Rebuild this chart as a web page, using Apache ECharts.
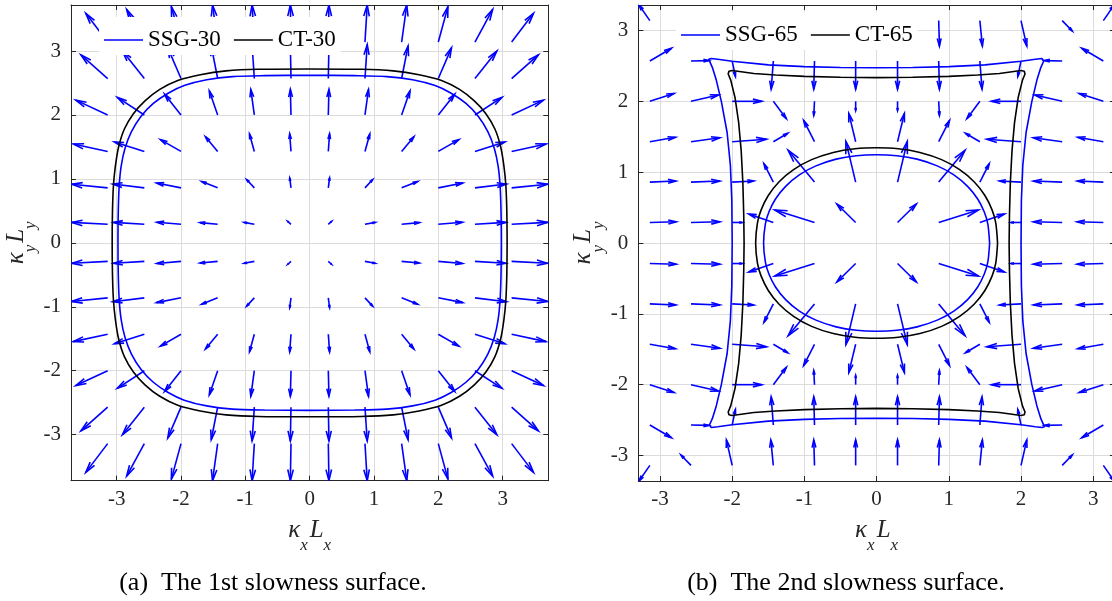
<!DOCTYPE html>
<html><head><meta charset="utf-8">
<script src="https://cdn.jsdelivr.net/npm/echarts@6/dist/echarts.min.js"></script>
<style>html,body{margin:0;padding:0;background:#fff}#c{width:1112px;height:601px}</style>
</head><body><div id="c"></div>
<script>
// quiver grid positions (same for both panels)
const gridPos = [-3.14, -2.57, -2.00, -1.43, -0.86, -0.29, 0.29, 0.86, 1.43, 2.00, 2.57, 3.14];

// Panel (a): arrow components, rows = y from -3.14 to 3.14, cols = x from -3.14 to 3.14
const uA = [
 [-0.34,-0.275,-0.15,-0.08,-0.035,-0.01,0.01,0.035,0.08,0.15,0.275,0.34],
 [-0.415,-0.34,-0.205,-0.10,-0.035,-0.01,0.01,0.035,0.10,0.205,0.34,0.415],
 [-0.495,-0.42,-0.255,-0.13,-0.055,-0.01,0.01,0.055,0.13,0.255,0.42,0.495],
 [-0.535,-0.465,-0.32,-0.19,-0.075,-0.02,0.02,0.075,0.19,0.32,0.465,0.535],
 [-0.56,-0.49,-0.38,-0.25,-0.12,-0.02,0.02,0.12,0.25,0.38,0.49,0.56],
 [-0.56,-0.48,-0.375,-0.275,-0.16,-0.05,0.05,0.16,0.275,0.375,0.48,0.56],
 [-0.56,-0.48,-0.375,-0.275,-0.16,-0.05,0.05,0.16,0.275,0.375,0.48,0.56],
 [-0.56,-0.49,-0.38,-0.25,-0.12,-0.02,0.02,0.12,0.25,0.38,0.49,0.56],
 [-0.535,-0.465,-0.32,-0.19,-0.075,-0.02,0.02,0.075,0.19,0.32,0.465,0.535],
 [-0.495,-0.42,-0.255,-0.13,-0.055,-0.01,0.01,0.055,0.13,0.255,0.42,0.495],
 [-0.415,-0.34,-0.205,-0.10,-0.035,-0.01,0.01,0.035,0.10,0.205,0.34,0.415],
 [-0.34,-0.275,-0.15,-0.08,-0.035,-0.01,0.01,0.035,0.08,0.15,0.275,0.34]
];
const vA = [
 [-0.45,-0.51,-0.555,-0.58,-0.58,-0.58,-0.58,-0.58,-0.58,-0.555,-0.51,-0.45],
 [-0.37,-0.43,-0.48,-0.51,-0.53,-0.53,-0.53,-0.53,-0.51,-0.48,-0.43,-0.37],
 [-0.232,-0.275,-0.325,-0.378,-0.40,-0.40,-0.40,-0.40,-0.378,-0.325,-0.275,-0.232],
 [-0.115,-0.148,-0.185,-0.23,-0.273,-0.276,-0.276,-0.273,-0.23,-0.185,-0.148,-0.115],
 [-0.057,-0.06,-0.075,-0.10,-0.13,-0.155,-0.155,-0.13,-0.10,-0.075,-0.06,-0.057],
 [-0.03,-0.03,-0.033,-0.026,-0.03,-0.045,-0.045,-0.03,-0.026,-0.033,-0.03,-0.03],
 [0.03,0.03,0.033,0.026,0.03,0.045,0.045,0.03,0.026,0.033,0.03,0.03],
 [0.057,0.06,0.075,0.10,0.13,0.155,0.155,0.13,0.10,0.075,0.06,0.057],
 [0.115,0.148,0.185,0.23,0.273,0.276,0.276,0.273,0.23,0.185,0.148,0.115],
 [0.232,0.275,0.325,0.378,0.40,0.40,0.40,0.40,0.378,0.325,0.275,0.232],
 [0.37,0.43,0.48,0.51,0.53,0.53,0.53,0.53,0.51,0.48,0.43,0.37],
 [0.45,0.51,0.555,0.58,0.58,0.58,0.58,0.58,0.58,0.555,0.51,0.45]
];

// Panel (b)
const uB = [
 [-0.15,-0.14,-0.08,-0.035,-0.01,0,0,0.01,0.035,0.08,0.14,0.15],
 [0.30,0.245,0.045,-0.03,-0.01,0,0,0.01,0.03,-0.045,-0.245,-0.30],
 [0.335,0.38,0.41,0.18,-0.01,0,0,0.01,-0.18,-0.41,-0.38,-0.335],
 [0.355,0.40,0.475,0.20,-0.15,-0.095,0.095,0.15,-0.20,-0.475,-0.40,-0.355],
 [0.36,0.40,0.30,-0.13,-0.365,-0.135,0.135,0.365,0.13,-0.30,-0.40,-0.36],
 [0.365,0.40,0.14,-0.34,-0.55,-0.26,0.26,0.55,0.34,-0.14,-0.40,-0.365],
 [0.365,0.40,0.14,-0.34,-0.55,-0.26,0.26,0.55,0.34,-0.14,-0.40,-0.365],
 [0.36,0.40,0.30,-0.13,-0.365,-0.135,0.135,0.365,0.13,-0.30,-0.40,-0.36],
 [0.355,0.40,0.475,0.20,-0.15,-0.095,0.095,0.15,-0.20,-0.475,-0.40,-0.355],
 [0.335,0.38,0.41,0.18,-0.01,0,0,0.01,-0.18,-0.41,-0.38,-0.335],
 [0.30,0.245,0.045,-0.03,-0.01,0,0,0.01,0.03,-0.045,-0.245,-0.30],
 [-0.15,-0.14,-0.08,-0.035,-0.01,0,0,0.01,0.035,0.08,0.14,0.15]
];
const vB = [
 [-0.22,0.148,0.36,0.36,0.36,0.36,0.36,0.36,0.36,0.36,0.148,-0.22],
 [-0.18,-0.005,0.22,0.40,0.40,0.40,0.40,0.40,0.40,0.22,-0.005,-0.18],
 [-0.11,-0.09,0,0.245,0.2,0.13,0.13,0.2,0.245,0,-0.09,-0.11],
 [-0.062,-0.055,-0.035,-0.12,-0.30,-0.40,-0.40,-0.30,-0.12,-0.035,-0.055,-0.062],
 [-0.015,-0.015,-0.015,-0.26,-0.45,-0.575,-0.575,-0.45,-0.26,-0.015,-0.015,-0.015],
 [-0.01,-0.01,0,-0.12,-0.175,-0.26,-0.26,-0.175,-0.12,0,-0.01,-0.01],
 [0.01,0.01,0,0.12,0.175,0.26,0.26,0.175,0.12,0,0.01,0.01],
 [0.015,0.015,0.015,0.26,0.45,0.575,0.575,0.45,0.26,0.015,0.015,0.015],
 [0.062,0.055,0.035,0.12,0.30,0.40,0.40,0.30,0.12,0.035,0.055,0.062],
 [0.11,0.09,0,-0.245,-0.2,-0.13,-0.13,-0.2,-0.245,0,0.09,0.11],
 [0.18,0.005,-0.22,-0.40,-0.40,-0.40,-0.40,-0.40,-0.40,-0.22,0.005,0.18],
 [0.22,-0.148,-0.36,-0.36,-0.36,-0.36,-0.36,-0.36,-0.36,-0.36,-0.148,0.22]
];

// curves
const ct30 = [[3.07,0],[3.065,0.5],[3.05,0.9],[3.02,1.2],[2.97,1.5],[2.88,1.78],[2.74,2.02],[2.56,2.22],[2.33,2.4],[2.05,2.54],[1.7,2.63],[1.3,2.69],[0.8,2.715],[0,2.72],
 [-0.8,2.715],[-1.3,2.69],[-1.7,2.63],[-2.05,2.54],[-2.33,2.4],[-2.56,2.22],[-2.74,2.02],[-2.88,1.78],[-2.97,1.5],[-3.02,1.2],[-3.05,0.9],[-3.065,0.5],[-3.07,0],
 [-3.065,-0.5],[-3.05,-0.9],[-3.02,-1.2],[-2.97,-1.5],[-2.88,-1.78],[-2.74,-2.02],[-2.56,-2.22],[-2.33,-2.4],[-2.05,-2.54],[-1.7,-2.63],[-1.3,-2.69],[-0.8,-2.715],[0,-2.72],
 [0.8,-2.715],[1.3,-2.69],[1.7,-2.63],[2.05,-2.54],[2.33,-2.4],[2.56,-2.22],[2.74,-2.02],[2.88,-1.78],[2.97,-1.5],[3.02,-1.2],[3.05,-0.9],[3.065,-0.5],[3.07,0]];
const ssg30 = [[2.98,0],[2.975,0.5],[2.96,0.9],[2.93,1.2],[2.87,1.48],[2.77,1.74],[2.62,1.98],[2.43,2.18],[2.2,2.34],[1.95,2.46],[1.6,2.55],[1.2,2.6],[0.7,2.615],[0,2.62],
 [-0.7,2.615],[-1.2,2.6],[-1.6,2.55],[-1.95,2.46],[-2.2,2.34],[-2.43,2.18],[-2.62,1.98],[-2.77,1.74],[-2.87,1.48],[-2.93,1.2],[-2.96,0.9],[-2.975,0.5],[-2.98,0],
 [-2.975,-0.5],[-2.96,-0.9],[-2.93,-1.2],[-2.87,-1.48],[-2.77,-1.74],[-2.62,-1.98],[-2.43,-2.18],[-2.2,-2.34],[-1.95,-2.46],[-1.6,-2.55],[-1.2,-2.6],[-0.7,-2.615],[0,-2.62],
 [0.7,-2.615],[1.2,-2.6],[1.6,-2.55],[1.95,-2.46],[2.2,-2.34],[2.43,-2.18],[2.62,-1.98],[2.77,-1.74],[2.87,-1.48],[2.93,-1.2],[2.96,-0.9],[2.975,-0.5],[2.98,0]];
const ct65Outer = [[1.835,0],[1.84,0.4],[1.852,0.85],[1.875,1.3],[1.91,1.7],[1.96,2.05],[2.02,2.3],[2.055,2.385],[2.045,2.425],[2.0,2.435],[1.7,2.392],[1.4,2.372],[1.0,2.352],[0.5,2.34],[0,2.335],
 [-0.5,2.34],[-1.0,2.352],[-1.4,2.372],[-1.7,2.392],[-2.0,2.435],[-2.045,2.425],[-2.055,2.385],[-2.02,2.3],[-1.96,2.05],[-1.91,1.7],[-1.875,1.3],[-1.852,0.85],[-1.84,0.4],[-1.835,0],
 [-1.84,-0.4],[-1.852,-0.85],[-1.875,-1.3],[-1.91,-1.7],[-1.96,-2.05],[-2.02,-2.3],[-2.055,-2.385],[-2.045,-2.425],[-2.0,-2.435],[-1.7,-2.392],[-1.4,-2.372],[-1.0,-2.352],[-0.5,-2.34],[0,-2.335],
 [0.5,-2.34],[1.0,-2.352],[1.4,-2.372],[1.7,-2.392],[2.0,-2.435],[2.045,-2.425],[2.055,-2.385],[2.02,-2.3],[1.96,-2.05],[1.91,-1.7],[1.875,-1.3],[1.852,-0.85],[1.84,-0.4],[1.835,0]];
const ssg65Outer = [[2.0,0],[2.005,0.6],[2.025,1.1],[2.07,1.56],[2.15,2.0],[2.22,2.3],[2.275,2.48],[2.315,2.57],[2.325,2.595],[2.29,2.605],[2.2,2.595],[2.0,2.565],[1.5,2.515],[1.0,2.49],[0.5,2.478],[0,2.475],
 [-0.5,2.478],[-1.0,2.49],[-1.5,2.515],[-2.0,2.565],[-2.2,2.595],[-2.29,2.605],[-2.325,2.595],[-2.315,2.57],[-2.275,2.48],[-2.22,2.3],[-2.15,2.0],[-2.07,1.56],[-2.025,1.1],[-2.005,0.6],[-2.0,0],
 [-2.005,-0.6],[-2.025,-1.1],[-2.07,-1.56],[-2.15,-2.0],[-2.22,-2.3],[-2.275,-2.48],[-2.315,-2.57],[-2.325,-2.595],[-2.29,-2.605],[-2.2,-2.595],[-2.0,-2.565],[-1.5,-2.515],[-1.0,-2.49],[-0.5,-2.478],[0,-2.475],
 [0.5,-2.478],[1.0,-2.49],[1.5,-2.515],[2.0,-2.565],[2.2,-2.595],[2.29,-2.605],[2.325,-2.595],[2.315,-2.57],[2.275,-2.48],[2.22,-2.3],[2.15,-2.0],[2.07,-1.56],[2.025,-1.1],[2.005,-0.6],[2.0,0]];
const ct65Inner = [[1.675,0],[1.65,0.285],[1.6,0.464],[1.5,0.67],[1.35,0.865],[1.15,1.036],[0.9,1.177],[0.6,1.279],[0.3,1.331],[0,1.345],
 [-0.3,1.331],[-0.6,1.279],[-0.9,1.177],[-1.15,1.036],[-1.35,0.865],[-1.5,0.67],[-1.6,0.464],[-1.65,0.285],[-1.675,0],
 [-1.65,-0.285],[-1.6,-0.464],[-1.5,-0.67],[-1.35,-0.865],[-1.15,-1.036],[-0.9,-1.177],[-0.6,-1.279],[-0.3,-1.331],[0,-1.345],
 [0.3,-1.331],[0.6,-1.279],[0.9,-1.177],[1.15,-1.036],[1.35,-0.865],[1.5,-0.67],[1.6,-0.464],[1.65,-0.285],[1.675,0]];
const ssg65Inner = [[1.565,0],[1.54,0.271],[1.49,0.441],[1.4,0.621],[1.26,0.80],[1.07,0.962],[0.84,1.089],[0.56,1.184],[0.28,1.232],[0,1.245],
 [-0.28,1.232],[-0.56,1.184],[-0.84,1.089],[-1.07,0.962],[-1.26,0.80],[-1.4,0.621],[-1.49,0.441],[-1.54,0.271],[-1.565,0],
 [-1.54,-0.271],[-1.49,-0.441],[-1.4,-0.621],[-1.26,-0.80],[-1.07,-0.962],[-0.84,-1.089],[-0.56,-1.184],[-0.28,-1.232],[0,-1.245],
 [0.28,-1.232],[0.56,-1.184],[0.84,-1.089],[1.07,-0.962],[1.26,-0.80],[1.4,-0.621],[1.49,-0.441],[1.54,-0.271],[1.565,0]];

const legendA = ['SSG-30', 'CT-30'];
const legendB = ['SSG-65', 'CT-65'];
const captions = ['(a)  The 1st slowness surface.', '(b)  The 2nd slowness surface.'];
const limitsA = {x: 3.71, y: 3.72};
const limitsB = {x: 3.3, y: 3.36};

const SERIF = 'Liberation Serif, Times New Roman, serif';
const AX = '#262626';
const BLUE = '#0000ff';

function quiverData(U, V) {
  const out = [];
  for (let r = 0; r < gridPos.length; r++)
    for (let c = 0; c < gridPos.length; c++)
      out.push([gridPos[c], gridPos[r], U[r][c], V[r][c]]);
  return out;
}

function renderArrow(params, api) {
  const x = api.value(0), y = api.value(1), u = api.value(2), v = api.value(3);
  const p0 = api.coord([x, y]);
  const p1 = api.coord([x + u, y + v]);
  const dx = p1[0] - p0[0], dy = p1[1] - p0[1];
  const L = Math.hypot(dx, dy);
  if (L < 0.5) return null;
  const a = 0.30, b = 0.25;
  const h1 = [p1[0] - a * (dx + b * dy), p1[1] - a * (dy - b * dx)];
  const h2 = [p1[0] - a * (dx - b * dy), p1[1] - a * (dy + b * dx)];
  const style = {stroke: BLUE, lineWidth: 1.6, fill: null, lineJoin: 'miter'};
  return {
    type: 'group',
    children: [
      {type: 'line', shape: {x1: p0[0], y1: p0[1], x2: p1[0], y2: p1[1]}, style},
      {type: 'polyline', shape: {points: [h1, p1, h2]}, style}
    ]
  };
}

const tickFmt = v => Math.abs(v - Math.round(v)) < 1e-6 ? String(Math.round(v)) : '';

const nameRich = {
  m: {fontFamily: SERIF, fontStyle: 'italic', fontSize: 25, lineHeight: 26, verticalAlign: 'top', color: AX},
  n: {fontFamily: SERIF, fontStyle: 'italic', fontSize: 25, lineHeight: 26, verticalAlign: 'top', color: AX, padding: [0, 0, 0, 2]},
  s: {fontFamily: SERIF, fontStyle: 'italic', fontSize: 17, lineHeight: 36, verticalAlign: 'bottom', color: AX}
};

function mainX(grid, lim) {
  return {
    gridIndex: grid, type: 'value', min: -lim, max: lim, splitNumber: 7, position: 'bottom',
    axisLine: {onZero: false, lineStyle: {color: AX, width: 1}},
    axisTick: {inside: true, length: 5, lineStyle: {color: AX}},
    axisLabel: {color: AX, fontFamily: SERIF, fontSize: 21, margin: 8, formatter: tickFmt},
    splitLine: {show: true, lineStyle: {color: '#dcdcdc', width: 1}},
    name: '{m|κ}{s|x}{n|L}{s|x}', nameLocation: 'middle', nameGap: 37,
    nameTextStyle: {rich: nameRich}
  };
}
function topX(grid, lim) {
  return {
    gridIndex: grid, type: 'value', min: -lim, max: lim, splitNumber: 7, position: 'top',
    axisLine: {onZero: false, lineStyle: {color: AX, width: 1}},
    axisTick: {inside: true, length: 5, lineStyle: {color: AX}},
    axisLabel: {show: false}, splitLine: {show: false}
  };
}
function mainY(grid, lim, gap) {
  return {
    gridIndex: grid, type: 'value', min: -lim, max: lim, splitNumber: 7, position: 'left',
    axisLine: {onZero: false, lineStyle: {color: AX, width: 1}},
    axisTick: {inside: true, length: 5, lineStyle: {color: AX}},
    axisLabel: {color: AX, fontFamily: SERIF, fontSize: 21, margin: 10, formatter: tickFmt},
    splitLine: {show: true, lineStyle: {color: '#dcdcdc', width: 1}},
    name: '{m|κ}{s|y}{n|L}{s|y}', nameLocation: 'middle', nameGap: gap, nameRotate: 90,
    nameTextStyle: {rich: nameRich}
  };
}
function rightY(grid, lim) {
  return {
    gridIndex: grid, type: 'value', min: -lim, max: lim, splitNumber: 7, position: 'right',
    axisLine: {onZero: false, lineStyle: {color: AX, width: 1}},
    axisTick: {inside: true, length: 5, lineStyle: {color: AX}},
    axisLabel: {show: false}, splitLine: {show: false}
  };
}
function curve(name, data, color, xi, yi, smooth) {
  return {type: 'line', name, data, xAxisIndex: xi, yAxisIndex: yi, symbol: 'none', showSymbol: false,
    smooth, lineStyle: {color, width: 1.6}, itemStyle: {color}, z: 5, silent: true, clip: true};
}
function legend(names, left, top) {
  return {
    data: names, left, top, orient: 'horizontal', backgroundColor: '#ffffff', borderWidth: 0,
    padding: [10, 5, 2, 5], icon: 'rect', itemWidth: 39, itemHeight: 1.6, itemGap: 13,
    textStyle: {fontFamily: SERIF, fontSize: 23, color: '#000', lineHeight: 26},
    selectedMode: false, z: 10
  };
}

const chart = echarts.init(document.getElementById('c'));
chart.setOption({
  animation: false,
  backgroundColor: '#ffffff',
  grid: [
    {left: 71, right: 563.7, top: 5, bottom: 120.3, containLabel: false, outerBoundsMode: 'none'},
    {left: 638.3, right: -2.9, top: 5, bottom: 120, containLabel: false, outerBoundsMode: 'none'}
  ],
  xAxis: [mainX(0, limitsA.x), topX(0, limitsA.x), mainX(1, limitsB.x), topX(1, limitsB.x)],
  yAxis: [mainY(0, limitsA.y, 31.5), rightY(0, limitsA.y), mainY(1, limitsB.y, 25), rightY(1, limitsB.y)],
  legend: [legend(legendA, 99, 17), legend(legendB, 676, 12)],
  series: [
    {type: 'custom', name: 'quiverA', xAxisIndex: 0, yAxisIndex: 0, data: quiverData(uA, vA), renderItem: renderArrow, clip: true, silent: true, z: 3},
    {type: 'custom', name: 'quiverB', xAxisIndex: 2, yAxisIndex: 2, data: quiverData(uB, vB), renderItem: renderArrow, clip: true, silent: true, z: 3},
    curve(legendA[0], ssg30, BLUE, 0, 0, 0.3),
    curve(legendA[1], ct30, '#000000', 0, 0, 0.3),
    curve(legendB[0], ssg65Outer, BLUE, 2, 2, false),
    curve(legendB[1], ct65Outer, '#000000', 2, 2, false),
    curve(legendB[0], ssg65Inner, BLUE, 2, 2, 0.3),
    curve(legendB[1], ct65Inner, '#000000', 2, 2, 0.3)
  ],
  graphic: [
    {type: 'text', x: 273, y: 583, style: {text: captions[0], font: '26px ' + SERIF, fill: '#000', textAlign: 'center', textVerticalAlign: 'middle'}},
    {type: 'text', x: 846, y: 583, style: {text: captions[1], font: '26px ' + SERIF, fill: '#000', textAlign: 'center', textVerticalAlign: 'middle'}}
  ]
});
</script>
</body></html>
